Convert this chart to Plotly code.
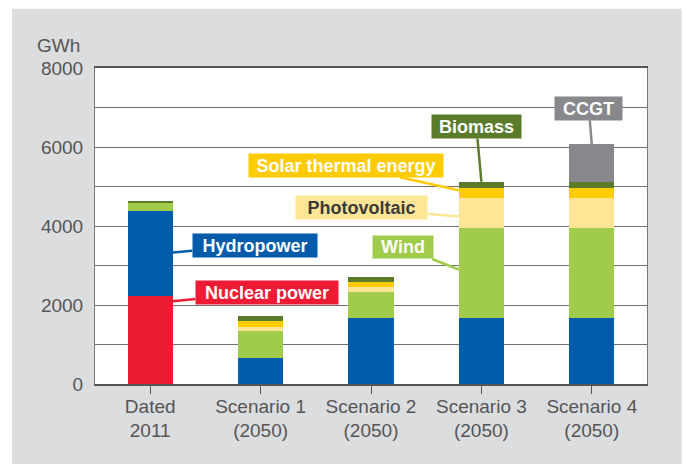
import plotly.graph_objects as go

categories = ["Dated<br>2011", "Scenario 1<br>(2050)", "Scenario 2<br>(2050)",
              "Scenario 3<br>(2050)", "Scenario 4<br>(2050)"]
nuclear = [2240, 0, 0, 0, 0]
hydro = [2150, 650, 1660, 1660, 1660]
wind = [210, 680, 680, 2300, 2300]
photovoltaic = [0, 125, 120, 760, 760]
solar_thermal = [0, 150, 110, 250, 250]
biomass = [45, 110, 150, 150, 150]
ccgt = [0, 0, 0, 0, 950]

y_ticks = [0, 2000, 4000, 6000, 8000]

series = [
    ("Nuclear power", nuclear, "#ED1B34"),
    ("Hydropower", hydro, "#005BAA"),
    ("Wind", wind, "#A0CB4B"),
    ("Photovoltaic", photovoltaic, "#FFE697"),
    ("Solar thermal energy", solar_thermal, "#FFCB05"),
    ("Biomass", biomass, "#5A7B2A"),
    ("CCGT", ccgt, "#87888B"),
]
colors = {name: c for name, _, c in series}

fig = go.Figure()
for name, vals, col in series:
    fig.add_trace(go.Bar(x=list(range(len(categories))), y=vals, name=name,
                         marker=dict(color=col, line=dict(width=0)),
                         hoverinfo="skip"))

HALF = 0.205  # half bar width in category units


def cum(upto_index, cat):
    return sum(s[1][cat] for s in series[:upto_index])


# (label, tip x, tip y, ax, ay, box w, box h, text colour)
labels = [
    ("Nuclear power", 0 + HALF, 2096, 94, -9, 142, 23, "white"),
    ("Hydropower", 0 + HALF, 3329, 82, -7, 124, 23, "white"),
    ("Wind", 3 - HALF, 2899, -56, -22, 60, 22, "white"),
    ("Photovoltaic", 3 - HALF, 4240, -97, -9, 131, 23, "#3A3A3A"),
    ("Solar thermal energy", 3 - HALF, 4906, -113, -25, 194, 23, "white"),
    ("Biomass", 3, cum(6, 3), -5, -55, 89, 23, "white"),
    ("CCGT", 4, cum(7, 4), -3, -36, 67, 23, "white"),
]

annotations = []
for name, tx, ty, ax, ay, w, h, tc in labels:
    annotations.append(dict(
        x=tx, y=ty, xref="x", yref="y", text=name, showarrow=True,
        ax=ax, ay=ay, arrowhead=0, arrowwidth=2.5, arrowcolor=colors[name],
        bgcolor=colors[name], borderpad=0, width=w, height=h,
        font=dict(family="Liberation Sans, Arial, sans-serif", size=18,
                  color=tc, weight="bold"),
        standoff=0, startstandoff=0))

annotations.append(dict(
    x=-0.0235, y=1.072, xref="paper", yref="paper", text="GWh",
    showarrow=False, xanchor="right", yanchor="middle",
    font=dict(family="Liberation Sans, Arial, sans-serif", size=19, color="#555555")))

shapes = [
    dict(type="rect", xref="paper", yref="paper", x0=-0.3, x1=1.2, y0=1.1877, y1=1.4,
         fillcolor="white", line=dict(width=0), layer="below"),
    dict(type="rect", xref="paper", yref="paper", x0=-0.3, x1=-0.1503, y0=-0.4, y1=1.4,
         fillcolor="white", line=dict(width=0), layer="below"),
    dict(type="rect", xref="paper", yref="paper", x0=1.0628, x1=1.2, y0=-0.4, y1=1.4,
         fillcolor="white", line=dict(width=0), layer="below"),
]

fig.update_layout(
    width=684, height=464,
    margin=dict(l=95, r=37, t=68, b=80, pad=0),
    paper_bgcolor="#DCDDDF", plot_bgcolor="white",
    barmode="stack", bargap=0.59, showlegend=False,
    annotations=annotations, shapes=shapes,
    font=dict(family="Liberation Sans, Arial, sans-serif", size=19, color="#555555"),
)
fig.update_xaxes(
    tickvals=list(range(len(categories))), ticktext=categories,
    range=[-0.5, len(categories) - 0.5], tickson="boundaries",
    ticks="outside", ticklen=8, tickcolor="#555555", tickwidth=1,
    showline=True, linecolor="#555555", linewidth=1.5, mirror=True,
    showgrid=False, zeroline=False, fixedrange=True, ticklabelstandoff=-4,
    tickfont=dict(size=19, color="#555555"),
)
fig.update_yaxes(
    range=[0, 8000], tickvals=y_ticks, ticktext=[str(v) for v in y_ticks],
    showgrid=True, gridcolor="#707070", gridwidth=1,
    minor=dict(dtick=1000, showgrid=True, gridcolor="#707070", gridwidth=1),
    showline=True, linecolor="#777777", linewidth=1, mirror=True,
    zeroline=False, ticks="", ticklabelstandoff=7, fixedrange=True,
    tickfont=dict(size=19, color="#555555"),
)

fig.write_html("out.html", config={"displayModeBar": False},
               post_script="document.body.style.margin='0';")
